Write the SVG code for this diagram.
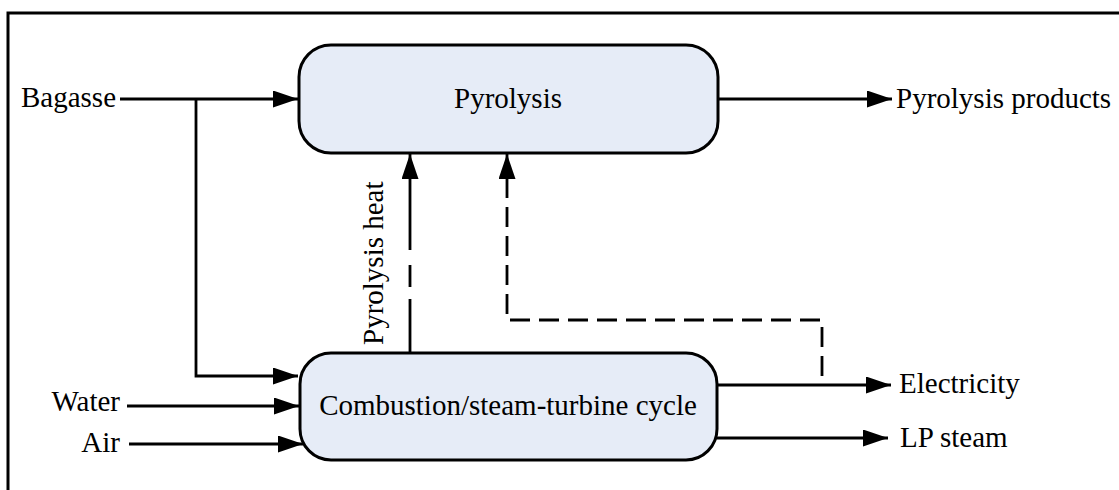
<svg xmlns="http://www.w3.org/2000/svg" width="1119" height="490" viewBox="0 0 1119 490">
<style>
text{font-family:"Liberation Serif","Times New Roman",serif;font-size:29px;fill:#000}
.box{fill:#E6ECF7;stroke:#000;stroke-width:3}
.ln{fill:none;stroke:#000;stroke-width:2.8}
.dash{stroke-dasharray:20 9}
</style>
<defs>
<marker id="ah" markerUnits="userSpaceOnUse" markerWidth="26" markerHeight="18" refX="25" refY="8.5" orient="auto">
<path d="M0,0 L25,8.5 L0,17 z" fill="#000"/>
</marker>
</defs>
<rect x="8" y="13" width="1200" height="600" fill="none" stroke="#000" stroke-width="3"/>
<g id="connectors">
<path class="ln" d="M120,99 H298" marker-end="url(#ah)"/>
<path class="ln" d="M196,99 V376 H298" marker-end="url(#ah)"/>
<path class="ln" d="M127,406 H299" marker-end="url(#ah)"/>
<path class="ln" d="M129,444 H303" marker-end="url(#ah)"/>
<path class="ln" d="M718,99 H892" marker-end="url(#ah)"/>
<path class="ln" d="M717,385 H891" marker-end="url(#ah)"/>
<path class="ln" d="M716,438 H888" marker-end="url(#ah)"/>
<path class="ln" d="M410,353 V154" stroke-dasharray="54 12 22 15 120" marker-end="url(#ah)"/>
<path class="ln dash" d="M822,376 V320 H507 V154" marker-end="url(#ah)"/>
</g>
<g id="pyrolysis">
<rect class="box" x="299" y="45" width="419" height="108" rx="32" ry="32"/>
<text x="508" y="108" text-anchor="middle">Pyrolysis</text>
</g>
<g id="combustion">
<rect class="box" x="300" y="353" width="417" height="107" rx="31" ry="31"/>
<text x="508" y="415" text-anchor="middle">Combustion/steam-turbine cycle</text>
</g>
<g id="labels">
<text x="116" y="107" text-anchor="end">Bagasse</text>
<text x="120" y="411" text-anchor="end">Water</text>
<text x="120" y="452" text-anchor="end">Air</text>
<text x="896" y="108">Pyrolysis products</text>
<text x="899" y="393">Electricity</text>
<text x="900" y="447">LP steam</text>
<text transform="translate(383,345) rotate(-90)">Pyrolysis heat</text>
</g>
</svg>
